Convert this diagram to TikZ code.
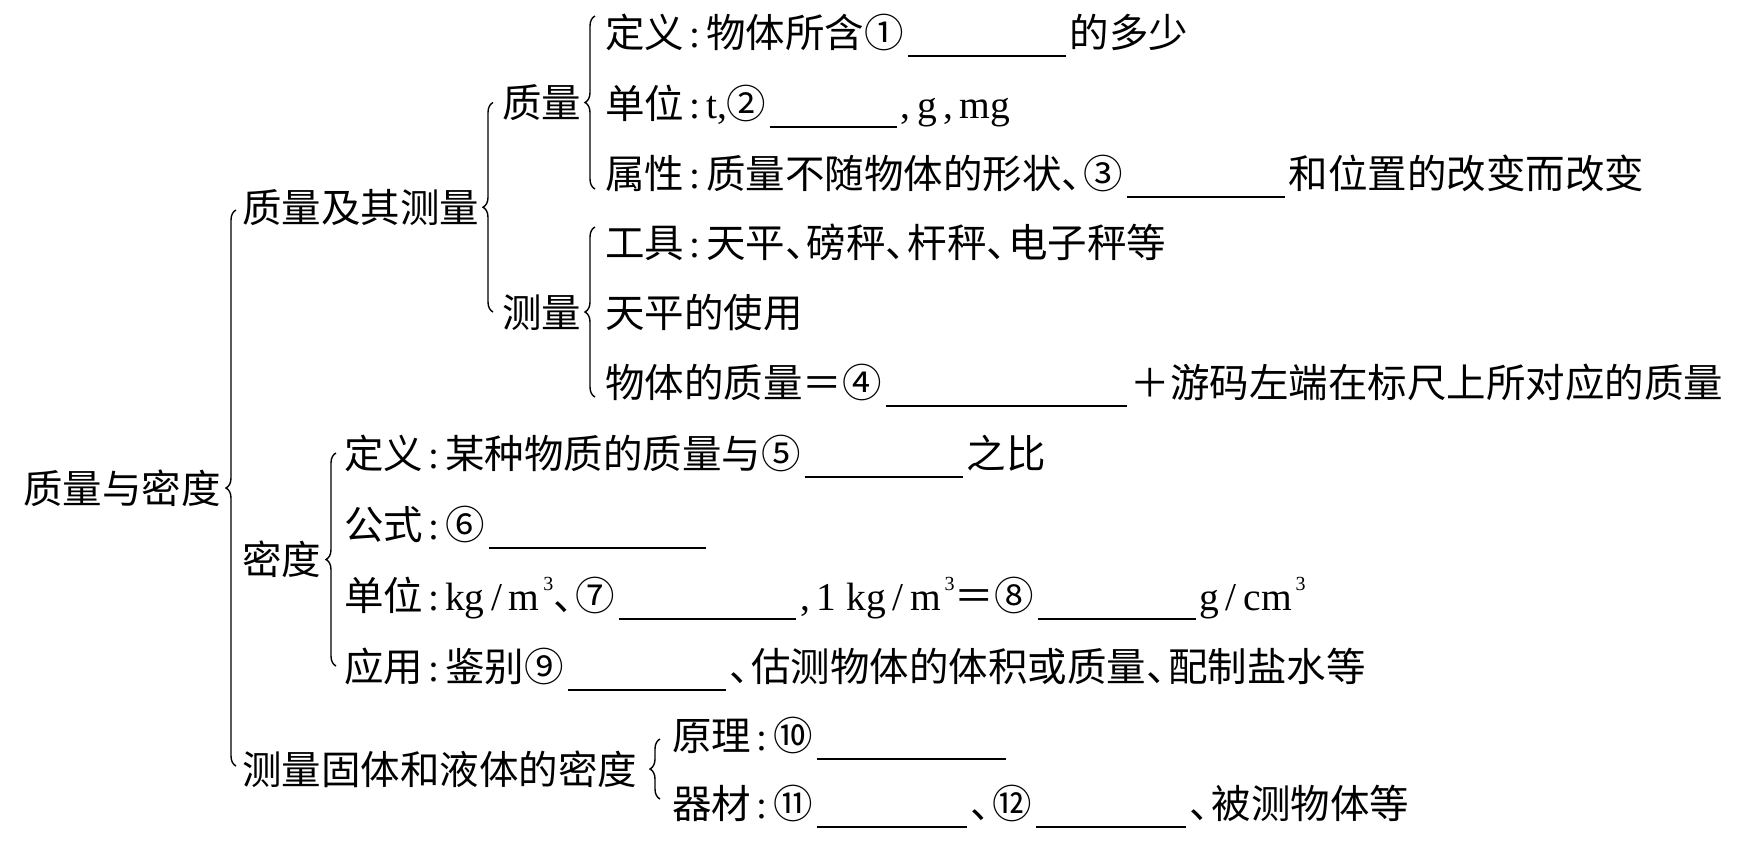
\documentclass[tikz,border=0pt]{standalone}
\usepackage{fontspec}
\setmainfont{Liberation Serif}
\newfontfamily\cjk{Noto Sans CJK SC}
\usetikzlibrary{decorations.pathreplacing,calc}
\newcommand\en[1]{{\rmfamily #1}}
\newcommand\cln{\makebox[0.55em]{\rmfamily :}}
\newcommand\dun{\makebox[0.55em][l]{、}}
\newcommand\cub{\hspace{0.1em}\raisebox{0.5em}{\fontsize{10}{10}\selectfont 3}}
\newcommand\blank[1]{\hspace{0.1em}\rule[-0.25em]{#1em}{0.8pt}\hspace{0.1em}}

\begin{document}
\begin{tikzpicture}[x=0.5pt,y=-0.5pt,
  every node/.style={font=\cjk\fontsize{19.75}{24}\selectfont,inner sep=0pt,
    text height=17.4pt,text depth=2.4pt,anchor=west},
  brc/.style={decorate,decoration={brace,amplitude=5pt},line width=0.7pt}]
\useasboundingbox (0,0) rectangle (1741,843);
% 质量及其测量
\node (a1) at (605,32) {定义\cln 物体所含①\blank{4}的多少};
\node (a2) at (605,103) {单位\cln \en{t,}②\blank{3.2}\en{,\,g\,,\,mg}};
\node (a3) at (605,173) {属性\cln 质量不随物体的形状\dun ③\blank{4}和位置的改变而改变};
\node (b1) at (605,242) {工具\cln 天平\dun 磅秤\dun 杆秤\dun 电子秤等};
\node (b2) at (605,312) {天平的使用};
\node (b3) at (605,382) {物体的质量＝④\blank{6.1}＋游码左端在标尺上所对应的质量};
% 密度
\node (c1) at (344,453) {定义\cln 某种物质的质量与⑤\blank{4}之比};
\node (c2) at (344,524) {公式\cln ⑥\blank{5.5}};
\node (c3) at (344,595) {单位\cln \en{kg\,/\,m\cub}\dun ⑦\blank{4.5}\en{,\,1 kg\,/\,m\cub}＝⑧\blank{4}\en{g\,/\,cm\cub}};
\node (c4) at (344,666) {应用\cln 鉴别⑨\blank{4}\dun 估测物体的体积或质量\dun 配制盐水等};
% 测量固体和液体的密度
\node (d1) at (672,735) {原理\cln ⑩\blank{4.8}};
\node (d2) at (672,803) {器材\cln ⑪\blank{3.8}\dun ⑫\blank{3.8}\dun 被测物体等};
% 上一级
\node (zl) at (502,102.5) {质量};
\node (cl) at (502,312) {测量};
\node (zq) at (242,207) {质量及其测量};
\node (md) at (242,559.5) {密度};
\node (cd) at (242,769) {测量固体和液体的密度};
\node (root) at (23,488) {质量与密度};
% 括号
\draw[brc] ($(a3.west)+(-10,16)$) -- ($(a1.west)+(-10,-16)$);
\draw[brc] ($(b3.west)+(-10,15)$) -- ($(b1.west)+(-10,-15)$);
\draw[brc] ($(cl.west)+(-9,0)$) -- ($(zl.west)+(-9,0)$);
\draw[brc] ($(cd.west)+(-6,-3)$) -- ($(zq.west)+(-6,3)$);
\draw[brc] ($(c4.west)+(-8,0)$) -- ($(c1.west)+(-8,0)$);
\draw[brc] ($(d2.west)+(-12,-4)$) -- ($(d1.west)+(-12,4)$);
\end{tikzpicture}
\end{document}
